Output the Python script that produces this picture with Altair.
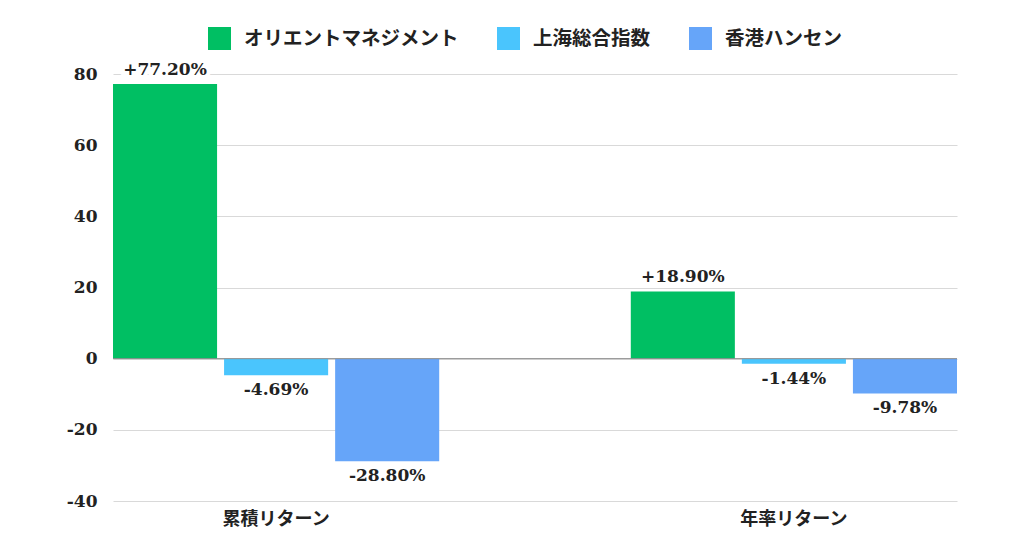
import altair as alt
import pandas as pd

categories = ["累積リターン", "年率リターン"]
series = ["オリエントマネジメント", "上海総合指数", "香港ハンセン"]
values_cum = [77.20, -4.69, -28.80]
values_ann = [18.90, -1.44, -9.78]
labels_cum = ["+77.20%", "-4.69%", "-28.80%"]
labels_ann = ["+18.90%", "-1.44%", "-9.78%"]
colors = ["#00bf63", "#4ac5fd", "#66a5f9"]
y_ticks = [-40, -20, 0, 20, 40, 60, 80]

rows = []
for cat, vals, labs in [(categories[0], values_cum, labels_cum), (categories[1], values_ann, labels_ann)]:
    for s, v, l in zip(series, vals, labs):
        rows.append(dict(category=cat, series=s, value=v, label=l))
df = pd.DataFrame(rows)

SERIF = "DejaVu Serif, Noto Sans CJK JP"
JP = "Noto Sans CJK JP"
INK = "#222222"

x = alt.X("category:N", sort=categories,
          scale=alt.Scale(paddingInner=0.37, paddingOuter=0),
          axis=alt.Axis(title=None, labelAngle=0, ticks=False, domain=False,
                        labelFont=JP, labelFontSize=18, labelFontWeight="bold",
                        labelColor=INK, labelPadding=9))
xo = alt.XOffset("series:N", sort=series,
                 scale=alt.Scale(paddingInner=0.063, paddingOuter=0))
y = alt.Y("value:Q", scale=alt.Scale(domain=[-40, 80], nice=False),
          axis=alt.Axis(values=y_ticks, title=None, ticks=False, domain=False,
                        labelExpr="'' + datum.value",
                        labelFont=SERIF, labelFontSize=17, labelFontWeight="bold",
                        labelColor=INK, labelPadding=16, gridColor="#d9d9d9"))

color = alt.Color("series:N", sort=series,
                  scale=alt.Scale(domain=series, range=colors),
                  legend=alt.Legend(orient="none", legendX=95, legendY=-47,
                                    direction="horizontal", title=None,
                                    symbolType="square", symbolSize=529,
                                    symbolStrokeWidth=0, labelFont=JP,
                                    labelFontSize=19.5, labelFontWeight="bold",
                                    labelColor=INK, columnPadding=38,
                                    labelOffset=13, padding=0, labelLimit=400))

base = alt.Chart(df)
bars = base.mark_bar().encode(x=x, xOffset=xo, y=y, color=color)

zero = alt.Chart(pd.DataFrame({"zero": [0]})).mark_rule(color="#8a8a8a", strokeWidth=1).encode(y="zero:Q")

pos = base.transform_filter("datum.value >= 0")
neg = base.transform_filter("datum.value < 0")

halo = pos.mark_text(baseline="bottom", dy=-5, font=SERIF, fontSize=17,
                     fontWeight="bold", stroke="white", strokeWidth=8,
                     fill="white").encode(x=x, xOffset=xo, y=y, text="label:N")
pos_txt = pos.mark_text(baseline="bottom", dy=-5, font=SERIF, fontSize=17,
                        fontWeight="bold", color=INK).encode(x=x, xOffset=xo, y=y, text="label:N")
neg_txt = neg.mark_text(baseline="top", dy=7, font=SERIF, fontSize=17,
                        fontWeight="bold", color=INK).encode(x=x, xOffset=xo, y=y, text="label:N")

chart = alt.layer(bars, zero, halo, pos_txt, neg_txt).properties(
    width=844, height=427,
    autosize="none",
    padding={"left": 105, "top": 66, "right": 50, "bottom": 29},
).configure_view(strokeWidth=0)

chart.save("out.html", embed_options={"renderer": "svg", "actions": False})
